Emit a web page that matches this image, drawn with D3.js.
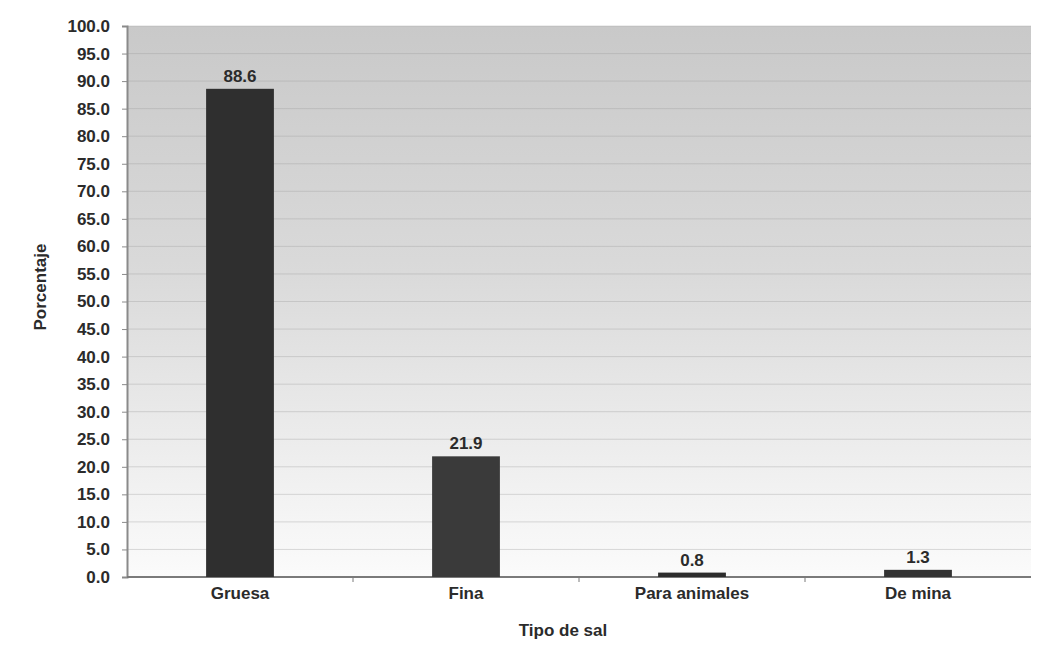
<!DOCTYPE html>
<html>
<head>
<meta charset="utf-8">
<script src="https://cdn.jsdelivr.net/npm/d3@7/dist/d3.min.js"></script>
<style>
  html, body { margin: 0; padding: 0; background: #ffffff; }
  svg { display: block; }
  text { font-family: "Liberation Sans", Arial, sans-serif; font-weight: bold; fill: #2b2b2b; }
</style>
</head>
<body>
<svg id="chart" width="1047" height="651"></svg>
<script>
// Salt type shares (percent)
const categories = ["Gruesa", "Fina", "Para animales", "De mina"];
const values = [88.6, 21.9, 0.8, 1.3];
const yTicks = d3.range(0, 100.01, 5);
const yTitle = "Porcentaje";
const xTitle = "Tipo de sal";

const svg = d3.select("#chart");
const margin = { top: 26, right: 16, bottom: 74, left: 127 };
const W = 1047, H = 651;
const plotW = W - margin.left - margin.right;
const plotH = H - margin.top - margin.bottom;
const fontSize = 17;

const x = d3.scaleBand().domain(categories).range([0, plotW]).paddingInner(0.7).paddingOuter(0.35);
const y = d3.scaleLinear().domain([0, 100]).range([plotH, 0]);

const defs = svg.append("defs");
const grad = defs.append("linearGradient").attr("id", "bg").attr("x1", 0).attr("y1", 0).attr("x2", 0).attr("y2", 1);
grad.append("stop").attr("offset", "0%").attr("stop-color", "#c9c9c9");
grad.append("stop").attr("offset", "45%").attr("stop-color", "#dadada");
grad.append("stop").attr("offset", "80%").attr("stop-color", "#efefef");
grad.append("stop").attr("offset", "100%").attr("stop-color", "#fbfbfb");

const g = svg.append("g").attr("transform", `translate(${margin.left},${margin.top})`);

// plot background
g.append("rect").attr("x", 0).attr("y", 0).attr("width", plotW).attr("height", plotH).attr("fill", "url(#bg)");

// horizontal gridlines
g.append("g").selectAll("line").data(yTicks.filter(d => d > 0)).join("line")
  .attr("x1", 0).attr("x2", plotW)
  .attr("y1", d => y(d)).attr("y2", d => y(d))
  .attr("stroke", "#9a9a9a").attr("stroke-width", 1).attr("stroke-opacity", 0.35);

// y axis
const yAxis = g.append("g").call(d3.axisLeft(y).tickValues(yTicks).tickFormat(d3.format(".1f")).tickSize(5).tickPadding(12));
yAxis.select(".domain").attr("stroke", "#8a8a8a").attr("stroke-width", 2);
yAxis.selectAll(".tick line").attr("stroke", "#8a8a8a");
yAxis.selectAll("text").attr("font-size", fontSize).style("font-family", "'Liberation Sans', Arial, sans-serif").style("font-weight", "bold").attr("fill", "#333");

// x axis with ticks at band boundaries
const xAxisG = g.append("g").attr("transform", `translate(0,${plotH})`);
xAxisG.append("line").attr("x1", 0).attr("x2", plotW).attr("y1", 0).attr("y2", 0)
  .attr("stroke", "#7a7a7a").attr("stroke-width", 2);
const step = x.step();
const bounds = d3.range(1, categories.length).map(i => x(categories[i]) - step * x.paddingInner() / 2);
xAxisG.selectAll(".xt").data(bounds).join("line").attr("class", "xt")
  .attr("x1", d => d).attr("x2", d => d).attr("y1", 0).attr("y2", 5)
  .attr("stroke", "#7a7a7a").attr("stroke-width", 1);
xAxisG.selectAll(".xl").data(categories).join("text").attr("class", "xl")
  .attr("x", d => x(d) + x.bandwidth() / 2).attr("y", 22)
  .attr("text-anchor", "middle").attr("font-size", fontSize).text(d => d);

// bars
const barColors = ["#2f2f2f", "#3a3a3a", "#2d2d2d", "#333333"];
g.selectAll(".bar").data(categories).join("rect").attr("class", "bar")
  .attr("x", d => x(d)).attr("width", x.bandwidth())
  .attr("y", (d, i) => y(values[i])).attr("height", (d, i) => Math.max(plotH - y(values[i]), 0))
  .attr("fill", (d, i) => barColors[i]);

// value labels
g.selectAll(".val").data(categories).join("text").attr("class", "val")
  .attr("x", d => x(d) + x.bandwidth() / 2)
  .attr("y", (d, i) => y(values[i]) - 7)
  .attr("text-anchor", "middle").attr("font-size", fontSize)
  .text((d, i) => values[i].toFixed(1));

// axis titles
svg.append("text").attr("x", 563).attr("y", 636).attr("text-anchor", "middle").attr("font-size", fontSize).text(xTitle);
svg.append("text").attr("transform", `translate(46,287) rotate(-90)`)
  .attr("text-anchor", "middle").attr("font-size", fontSize).text(yTitle);
</script>
</body>
</html>
